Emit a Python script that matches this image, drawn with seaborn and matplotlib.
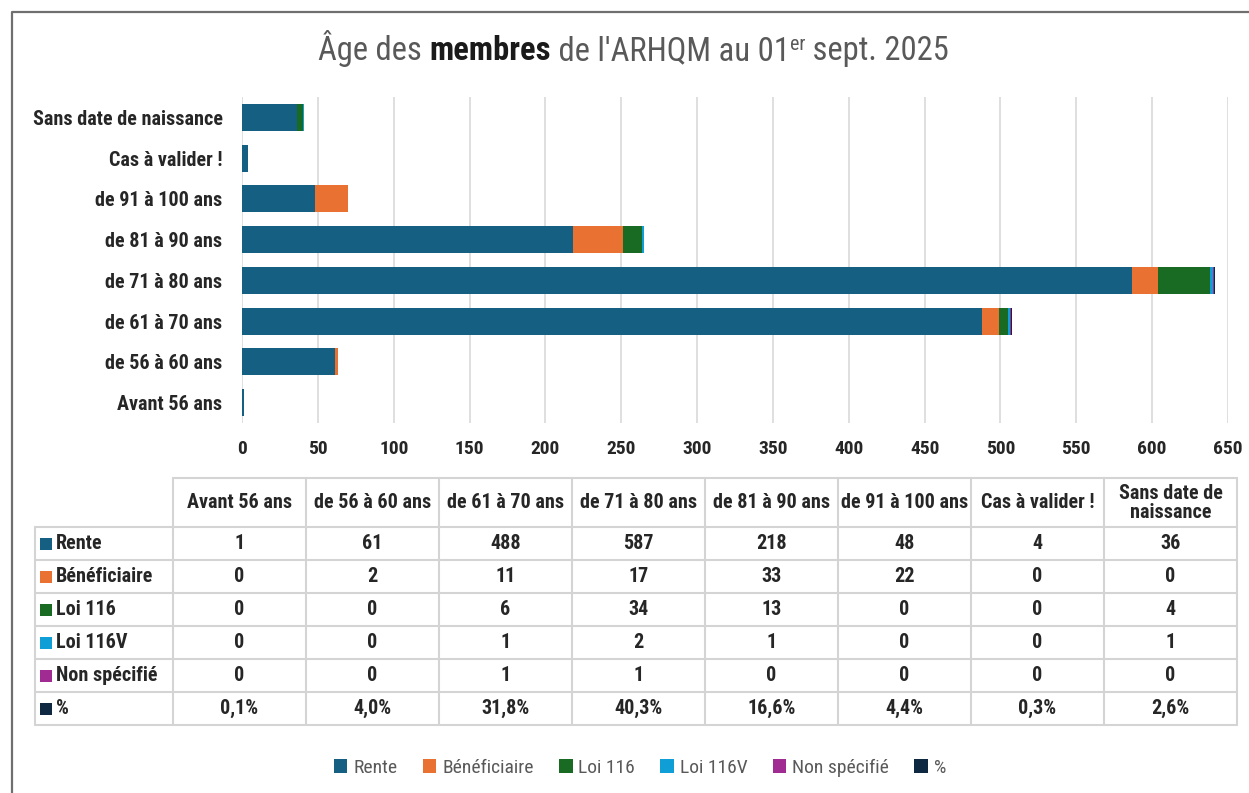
import pandas as pd
import seaborn as sns
import matplotlib.pyplot as plt
from matplotlib import font_manager
from matplotlib.patches import Patch

categories = ['Avant 56 ans', 'de 56 à 60 ans', 'de 61 à 70 ans', 'de 71 à 80 ans',
              'de 81 à 90 ans', 'de 91 à 100 ans', 'Cas à valider !', 'Sans date de naissance']
entetes = ['Avant 56 ans', 'de 56 à 60 ans', 'de 61 à 70 ans', 'de 71 à 80 ans',
           'de 81 à 90 ans', 'de 91 à 100 ans', 'Cas à valider !', 'Sans date de\nnaissance']
rente = [1, 61, 488, 587, 218, 48, 4, 36]
beneficiaire = [0, 2, 11, 17, 33, 22, 0, 0]
loi_116 = [0, 0, 6, 34, 13, 0, 0, 4]
loi_116v = [0, 0, 1, 2, 1, 0, 0, 1]
non_specifie = [0, 0, 1, 1, 0, 0, 0, 0]
pourcent = [0.1, 4.0, 31.8, 40.3, 16.6, 4.4, 0.3, 2.6]

series = ['Rente', 'Bénéficiaire', 'Loi 116', 'Loi 116V', 'Non spécifié', '%']
couleurs = ['#156082', '#E97132', '#196B24', '#0F9ED5', '#A02B93', '#0E2841']

# Police étroite si disponible
dispo = {f.name for f in font_manager.fontManager.ttflist}
police = next((p for p in ['Roboto Condensed', 'Liberation Sans Narrow', 'Open Sans Condensed',
                           'Noto Sans', 'Liberation Sans'] if p in dispo), 'DejaVu Sans')

sns.set_style('white')
plt.rcParams['font.family'] = [police, 'DejaVu Sans']

df = pd.DataFrame({'Catégorie': categories, 'Rente': rente, 'Bénéficiaire': beneficiaire,
                   'Loi 116': loi_116, 'Loi 116V': loi_116v, 'Non spécifié': non_specifie,
                   '%': [p / 100 for p in pourcent]})
# cumuls pour l'empilement
cumul = df[series].cumsum(axis=1)
for s in series:
    df['cum_' + s] = cumul[s]

ordre = categories[::-1]

W, H = 1249, 793
fig = plt.figure(figsize=(W / 100, H / 100), dpi=100)
ax = fig.add_axes([242 / W, 1 - 423 / H, 986 / W, 326 / H])

for s, c in reversed(list(zip(series, couleurs))):
    sns.barplot(data=df, x='cum_' + s, y='Catégorie', order=ordre, orient='h',
                color=c, saturation=1, width=0.66, ax=ax, linewidth=0)

ax.set_xlim(0, 650)
ax.set_xticks(range(0, 651, 50))
ax.set_xlabel('')
ax.set_ylabel('')
ax.grid(axis='x', color='#d9d9d9', linewidth=1.2)
ax.set_axisbelow(True)
for sp in ax.spines.values():
    sp.set_visible(False)
ax.tick_params(axis='y', length=0, pad=14, labelsize=14.5, labelcolor='#262626')
ax.tick_params(axis='x', length=0, pad=12, labelsize=14, labelcolor='#262626')
for lab in ax.get_yticklabels() + ax.get_xticklabels():
    lab.set_fontweight('bold')

# Calque en coordonnées pixels pour le titre, le cadre et le tableau
ov = fig.add_axes([0, 0, 1, 1])
ov.set_xlim(0, W)
ov.set_ylim(H, 0)
ov.axis('off')

# cadre
ov.plot([12, 12, W], [H, 12, 12], color='#6f6f6f', lw=1.6, clip_on=False)

# titre avec styles mélangés
gris = '#595959'
t1 = ov.text(318, 67, 'Âge des ', fontsize=23.5, color=gris, va='bottom', ha='left')
t2 = ov.annotate('membres', xy=(1, 0), xycoords=t1, fontsize=23.5, color='#1a1a1a',
                 fontweight='bold', va='bottom', ha='left')
t3 = ov.annotate(" de l'ARHQM au 01", xy=(1, 0), xycoords=t2, fontsize=23.5, color=gris,
                 va='bottom', ha='left')
t4 = ov.annotate('er', xy=(1, 0.42), xycoords=t3, fontsize=14.5, color=gris,
                 va='bottom', ha='left')
ov.annotate(' sept. 2025', xy=(1, 0), xycoords=(t4, t3), fontsize=23.5, color=gris,
            va='bottom', ha='left')

# tableau de données
bords_x = [35, 173, 306, 439, 572, 705, 838, 971, 1104, 1237]
bords_y = [478, 527, 560, 593, 626, 659, 692, 725]
ligne = dict(color='#d4d4d4', lw=1.5)
ov.plot([173, 1237], [478, 478], **ligne)
for y in bords_y[1:]:
    ov.plot([35, 1237], [y, y], **ligne)
ov.plot([35, 35], [527, 725], **ligne)
for x in bords_x[1:]:
    ov.plot([x, x], [478, 725], **ligne)

cx = [(a + b) / 2 for a, b in zip(bords_x[1:-1], bords_x[2:])]
for x, e in zip(cx, entetes):
    ov.text(x, 503, e, ha='center', va='center', fontsize=14.5, fontweight='bold',
            color='#262626', linespacing=1.05)

valeurs = [rente, beneficiaire, loi_116, loi_116v, non_specifie,
           [f'{p:.1f}%'.replace('.', ',') for p in pourcent]]
for i, (s, c, vals) in enumerate(zip(series, couleurs, valeurs)):
    yc = (bords_y[i + 1] + bords_y[i + 2]) / 2
    ov.scatter([46], [yc], marker='s', s=85, color=c, linewidths=0)
    ov.text(56, yc, s, ha='left', va='center', fontsize=14.5, fontweight='bold', color='#262626')
    for x, v in zip(cx, vals):
        ov.text(x, yc, str(v), ha='center', va='center', fontsize=14.5,
                fontweight='bold', color='#262626')

# légende du bas
poignees = [Patch(facecolor=c, edgecolor='none', label=s) for s, c in zip(series, couleurs)]
fig.legend(handles=poignees, loc='center', bbox_to_anchor=(640 / W, 1 - 768 / H), ncol=6,
           frameon=False, fontsize=14, labelcolor=gris, handlelength=0.7,
           handleheight=0.7, handletextpad=0.3, columnspacing=1.3)

fig.savefig('out.png', dpi=100)
